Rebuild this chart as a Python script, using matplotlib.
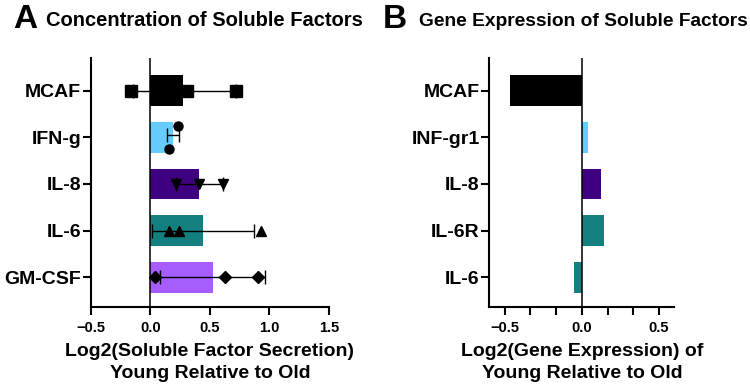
"""Soluble factor secretion vs gene expression, young relative to old."""

import matplotlib
matplotlib.use("Agg")
import matplotlib.pyplot as plt
from matplotlib.ticker import MultipleLocator

plt.rcParams["font.family"] = ["Liberation Sans", "DejaVu Sans"]
plt.rcParams["font.weight"] = "bold"

# Panel A data: log2 secretion, young relative to old
factors = ["MCAF", "IFN-g", "IL-8", "IL-6", "GM-CSF"]
secretion_mean = [0.275, 0.19, 0.41, 0.44, 0.525]
secretion_points = [
    [-0.167, 0.307, 0.717],
    [0.228, 0.153],
    [0.215, 0.41, 0.608],
    [0.153, 0.243, 0.929],
    [0.042, 0.628, 0.906],
]
secretion_err_low = [-0.148, 0.14, 0.215, 0.015, 0.084]
secretion_err_high = [0.717, 0.237, 0.608, 0.87, 0.962]

# Panel B data: log2 gene expression, young relative to old
genes = ["MCAF", "INF-gr1", "IL-8", "IL-6R", "IL-6"]
expression = [-0.463, 0.037, 0.124, 0.141, -0.05]

# Styling
BLACK = "#000000"
LIGHT_BLUE = "#66CCFF"
DARK_PURPLE = "#3F0080"
TEAL = "#137F7F"
PURPLE = "#A65CFF"
colors_a = [BLACK, LIGHT_BLUE, DARK_PURPLE, TEAL, PURPLE]
colors_b = [BLACK, LIGHT_BLUE, DARK_PURPLE, TEAL, TEAL]
markers_a = ["s", "o", "v", "^", "D"]
marker_sizes = [8, 6.5, 7, 7, 6]
point_jitter = {1: [0.25, -0.25]}  # IFN-g points are spread vertically

BAR_H = 0.66
YLIM = (4.64, -0.70)


def style_axes(ax):
    for side in ["top", "right"]:
        ax.spines[side].set_visible(False)
    for side in ["left", "bottom"]:
        ax.spines[side].set_linewidth(1.5)
    ax.tick_params(axis="both", which="both", width=1.5, length=6, color=BLACK)
    ax.tick_params(axis="y", labelsize=14, pad=1)
    ax.tick_params(axis="x", labelsize=10.5, pad=4)
    for lbl in ax.get_yticklabels() + ax.get_xticklabels():
        lbl.set_fontweight("bold")
    ax.axvline(0, color=BLACK, linewidth=1.1, zorder=4)
    ax.set_ylim(*YLIM)


fig = plt.figure(figsize=(7.5, 3.89), dpi=100)
ax1 = fig.add_axes([0.1213, 0.2108, 0.3173, 0.640])
ax2 = fig.add_axes([0.6524, 0.2108, 0.2467, 0.640])

# Panel A
ypos = list(range(len(factors)))
ax1.barh(ypos, secretion_mean, height=BAR_H, color=colors_a, zorder=2)
for i, pts in enumerate(secretion_points):
    lo, hi, m = secretion_err_low[i], secretion_err_high[i], secretion_mean[i]
    yc = i - 0.05 if i in point_jitter else i
    ax1.errorbar([m], [yc], xerr=[[m - lo], [hi - m]], fmt="none",
                 ecolor=BLACK, elinewidth=1, capsize=5, capthick=1, zorder=3)
    offs = point_jitter.get(i, [0] * len(pts))
    ax1.plot(pts, [i - o for o in offs], linestyle="none", marker=markers_a[i],
             markersize=marker_sizes[i], color=BLACK, zorder=5)

ax1.set_xlim(-0.5, 1.5)
ax1.xaxis.set_major_locator(MultipleLocator(0.5))
ax1.set_yticks(ypos)
ax1.set_yticklabels(factors)
style_axes(ax1)
ax1.set_xlabel("Log2(Soluble Factor Secretion)\nYoung Relative to Old",
               fontsize=14, fontweight="bold", labelpad=6, linespacing=1.35)

# Panel B
ax2.barh(ypos, expression, height=BAR_H, color=colors_b, zorder=2)
ax2.set_xlim(-0.6, 0.6)
ax2.set_xticks([-0.5, 0.0, 0.5])
ax2.xaxis.set_minor_locator(MultipleLocator(0.5 / 3))
ax2.set_yticks(ypos)
ax2.set_yticklabels(genes)
style_axes(ax2)
ax2.set_xlabel("Log2(Gene Expression) of\nYoung Relative to Old",
               fontsize=14, fontweight="bold", labelpad=6, linespacing=1.35)

# Panel letters and titles
fig.text(13 / 750, 1 - 20 / 389, "A", fontsize=24, fontweight="bold",
         ha="left", va="center")
fig.text(204.5 / 750, 1 - 20 / 389, "Concentration of Soluble Factors",
         fontsize=14.5, fontweight="bold", ha="center", va="center")
fig.text(383 / 750, 1 - 20 / 389, "B", fontsize=24, fontweight="bold",
         ha="left", va="center")
fig.text(583 / 750, 1 - 21 / 389, "Gene Expression of Soluble Factors",
         fontsize=13.8, fontweight="bold", ha="center", va="center")

fig.savefig("out.png", dpi=100, facecolor="white")
plt.close(fig)
